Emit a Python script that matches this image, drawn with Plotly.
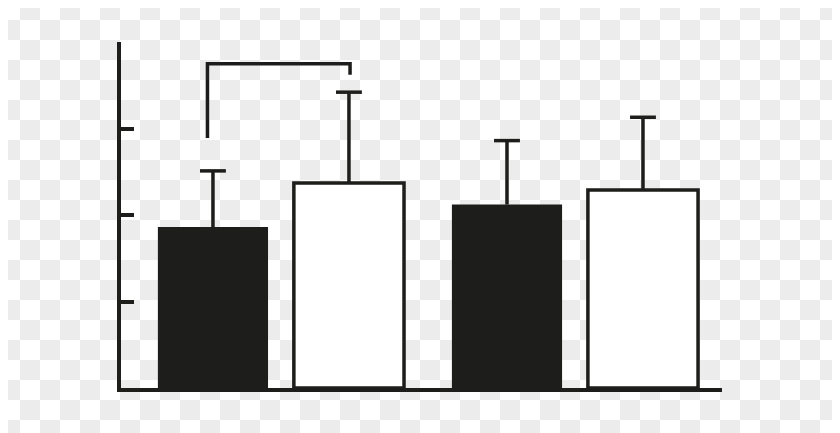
import plotly.graph_objects as go

# ---- data ----
groups = [0, 1]
dark_values = [1.86, 2.12]
dark_err = [0.65, 0.74]
light_values = [2.37, 2.29]
light_err = [1.05, 0.84]
y_ticks = [0, 1, 2, 3, 4]
bracket_x = [-0.25, -0.25, 0.235, 0.235]
bracket_y = [2.89, 3.75, 3.75, 3.62]

INK = "#1d1d1b"
BARGAP = 0.075
BARGROUPGAP = 0.19
CAP_HALF = 0.044

PAGE_W, PAGE_H = 840, 433
BODY = 8  # default page margin around the figure
W, H = PAGE_W - BODY, PAGE_H - BODY
L, R, T, B = 113, 118, 34, 45
pw, ph = W - L - R, H - T - B

# checkerboard background (transparency preview) as paper-referenced shapes
sq = 20
bg_shapes = []
for j in range(0, PAGE_H // sq + 1):
    for i in range(0, PAGE_W // sq + 1):
        if (i + j) % 2 == 1:
            x0 = max(i * sq - BODY, 0)
            x1 = min((i + 1) * sq - BODY, W)
            y0 = max(j * sq - BODY, 0)
            y1 = min((j + 1) * sq - BODY, H)
            if x1 <= x0 or y1 <= y0:
                continue
            bg_shapes.append(dict(
                type="rect", xref="paper", yref="paper", layer="below",
                x0=(x0 - L) / pw, x1=(x1 - L) / pw,
                y0=(H - B - y1) / ph, y1=(H - B - y0) / ph,
                fillcolor="#ececec", line=dict(width=0),
            ))

fig = go.Figure()
fig.add_trace(go.Bar(
    x=groups, y=dark_values, marker=dict(color=INK, line=dict(width=0)),
    showlegend=False, hoverinfo="y",
))
fig.add_trace(go.Bar(
    x=groups, y=light_values, marker=dict(color="#ffffff", line=dict(color=INK, width=3.5)),
    showlegend=False, hoverinfo="y",
))

# error bars (upper only) drawn as line paths from the data
offset = (1 - BARGAP) / 4
ex, ey = [], []
for vals, errs, sign in ((dark_values, dark_err, -1), (light_values, light_err, 1)):
    for g, v, e in zip(groups, vals, errs):
        cx = g + sign * offset
        ex += [cx, cx, None, cx - CAP_HALF, cx + CAP_HALF, None]
        ey += [v, v + e, None, v + e, v + e, None]
fig.add_trace(go.Scatter(
    x=ex, y=ey, mode="lines", line=dict(color=INK, width=3.5),
    showlegend=False, hoverinfo="skip",
))
fig.add_trace(go.Scatter(
    x=bracket_x, y=bracket_y, mode="lines",
    line=dict(color=INK, width=3.5), showlegend=False, hoverinfo="skip",
))

fig.update_layout(
    width=W, height=H,
    margin=dict(l=L, r=R, t=T, b=B, pad=0),
    paper_bgcolor="#ffffff", plot_bgcolor="rgba(0,0,0,0)",
    barmode="group", bargap=BARGAP, bargroupgap=BARGROUPGAP,
    shapes=bg_shapes,
    xaxis=dict(range=[-0.544, 1.5], showline=True, linecolor=INK, linewidth=4,
               showticklabels=False, ticks="", showgrid=False, zeroline=False),
    yaxis=dict(range=[0, 4], tickvals=y_ticks, showline=True, linecolor=INK, linewidth=4,
               ticks="inside", ticklen=13, tickwidth=3.5, tickcolor=INK,
               showticklabels=False, showgrid=False, zeroline=False),
)

fig.write_html("out.html", config={"displayModeBar": False})
